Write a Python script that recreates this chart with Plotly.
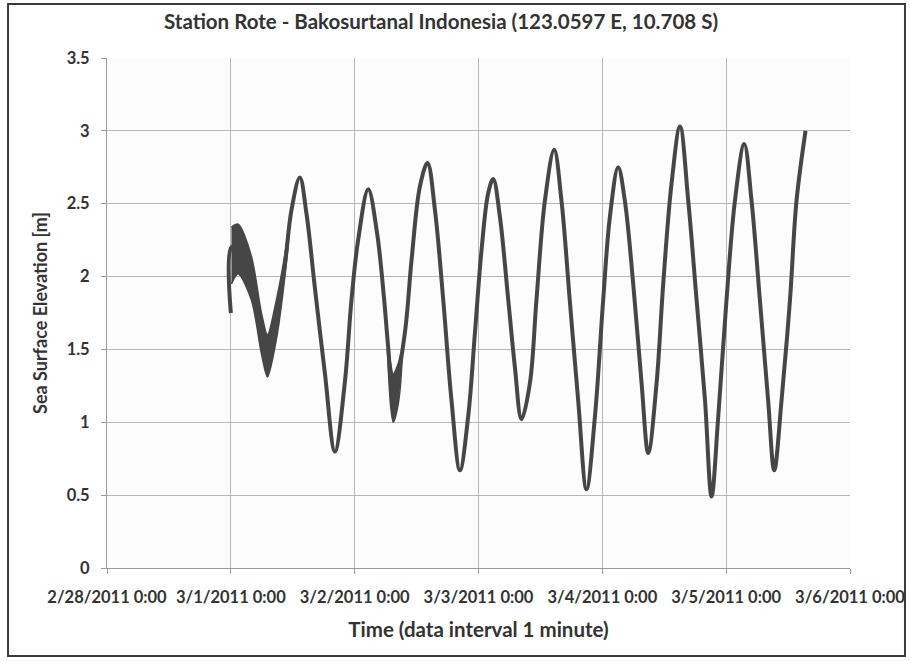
import plotly.graph_objects as go

title_text = "Station Rote - Bakosurtanal Indonesia (123.0597 E, 10.708 S)"
x_title = "Time (data interval 1 minute)"
y_title = "Sea Surface Elevation [m]"

tick_dates = ["2011-02-28", "2011-03-01", "2011-03-02", "2011-03-03",
              "2011-03-04", "2011-03-05", "2011-03-06"]
tick_labels = ["2/28/2011 0:00", "3/1/2011 0:00", "3/2/2011 0:00", "3/3/2011 0:00",
               "3/4/2011 0:00", "3/5/2011 0:00", "3/6/2011 0:00"]
y_ticks = [0, 0.5, 1, 1.5, 2, 2.5, 3, 3.5]
y_tick_labels = ["0", "0.5", "1", "1.5", "2", "2.5", "3", "3.5"]

# sea surface elevation (m)
times = [
    "2011-03-01 00:00", "2011-03-01 00:07", "2011-03-01 01:25", "2011-03-01 03:59",
    "2011-03-01 05:56", "2011-03-01 07:06", "2011-03-01 08:50", "2011-03-01 10:28",
    "2011-03-01 11:46", "2011-03-01 13:22", "2011-03-01 14:40", "2011-03-01 16:16",
    "2011-03-01 18:13", "2011-03-01 20:10", "2011-03-01 22:05", "2011-03-01 23:23",
    "2011-03-02 00:40", "2011-03-02 02:38", "2011-03-02 04:20", "2011-03-02 05:40",
    "2011-03-02 06:29", "2011-03-02 07:28", "2011-03-02 09:43", "2011-03-02 11:01",
    "2011-03-02 12:39", "2011-03-02 14:07", "2011-03-02 15:33", "2011-03-02 17:10",
    "2011-03-02 18:46", "2011-03-02 20:24", "2011-03-02 22:00", "2011-03-02 23:18",
    "2011-03-03 00:35", "2011-03-03 01:52", "2011-03-03 02:51", "2011-03-03 04:09",
    "2011-03-03 05:46", "2011-03-03 07:03", "2011-03-03 08:20", "2011-03-03 09:58",
    "2011-03-03 11:14", "2011-03-03 12:52", "2011-03-03 14:40", "2011-03-03 16:05",
    "2011-03-03 17:41", "2011-03-03 19:19", "2011-03-03 20:56", "2011-03-03 22:34",
    "2011-03-04 00:10", "2011-03-04 01:28", "2011-03-04 03:04", "2011-03-04 04:22",
    "2011-03-04 05:59", "2011-03-04 07:36", "2011-03-04 08:54", "2011-03-04 10:31",
    "2011-03-04 11:48", "2011-03-04 13:25", "2011-03-04 15:03", "2011-03-04 16:39",
    "2011-03-04 18:16", "2011-03-04 19:54", "2011-03-04 21:10", "2011-03-04 22:28",
    "2011-03-05 00:04", "2011-03-05 01:42", "2011-03-05 03:30", "2011-03-05 04:55",
    "2011-03-05 06:32", "2011-03-05 08:08", "2011-03-05 09:19", "2011-03-05 10:44",
    "2011-03-05 12:22", "2011-03-05 13:38", "2011-03-05 15:23",
]
elevation = [
    1.75, 2.20, 2.20, 1.99,
    1.60, 1.47, 1.70, 2.08,
    2.46, 2.68, 2.43, 1.93,
    1.34, 0.80, 1.27, 1.84,
    2.25, 2.60, 2.30, 1.86,
    1.52, 1.18, 1.61, 2.11,
    2.62, 2.78, 2.46, 1.84,
    1.15, 0.67, 1.04, 1.61,
    2.18, 2.57, 2.67, 2.41,
    1.84, 1.38, 1.02, 1.27,
    1.84, 2.52, 2.87, 2.52,
    1.84, 1.15, 0.54, 1.04,
    1.84, 2.41, 2.75, 2.52,
    1.95, 1.27, 0.79, 1.27,
    1.95, 2.64, 3.03, 2.52,
    1.84, 1.15, 0.49, 1.04,
    1.84, 2.52, 2.91, 2.52,
    1.84, 1.15, 0.67, 1.15,
    1.84, 2.52, 3.00,
]

# upper / lower edges of the noisy (high-frequency) band
noise1_times = ["2011-03-01 00:07", "2011-03-01 01:25", "2011-03-01 03:59", "2011-03-01 05:56",
                "2011-03-01 07:06", "2011-03-01 08:50", "2011-03-01 10:28", "2011-03-01 11:17"]
noise1_upper = [2.34, 2.36, 2.14, 1.75, 1.60, 1.84, 2.15, 2.35]
noise1_lower = [1.95, 2.02, 1.84, 1.47, 1.31, 1.57, 2.00, 2.30]

noise2_times = ["2011-03-02 06:20", "2011-03-02 07:00", "2011-03-02 07:28",
                "2011-03-02 08:25", "2011-03-02 09:10"]
noise2_upper = [1.56, 1.40, 1.33, 1.40, 1.50]
noise2_lower = [1.50, 1.10, 1.00, 1.12, 1.42]

font_family = "Lato, 'Open Sans', sans-serif"
text_color = "#333333"
line_color = "#464646"

fig = go.Figure()
for nt, nu, nl in [(noise1_times, noise1_upper, noise1_lower),
                   (noise2_times, noise2_upper, noise2_lower)]:
    fig.add_trace(go.Scatter(
        x=nt + nt[::-1], y=nu + nl[::-1], mode="lines", fill="toself",
        fillcolor=line_color, line=dict(color=line_color, width=1.5, shape="spline", smoothing=0.8),
        showlegend=False, hoverinfo="skip",
    ))
fig.add_trace(go.Scatter(
    x=times, y=elevation, mode="lines",
    line=dict(color=line_color, width=4, shape="spline", smoothing=1.0),
    showlegend=False, hoverinfo="x+y",
))

axis_font = dict(family=font_family, size=16.5, weight="bold", color=text_color)

fig.update_layout(
    width=910, height=661,
    margin=dict(l=107, r=60, t=58, b=93),
    paper_bgcolor="#ffffff",
    plot_bgcolor="#fcfcfd",
    font=dict(family=font_family, color=text_color, size=13),
    title=dict(text=title_text, x=441 / 910, xanchor="center", y=1 - 22 / 661, yanchor="middle",
               font=dict(family=font_family, size=20.5, weight="bold", color=text_color)),
    xaxis=dict(
        type="date",
        range=[tick_dates[0], tick_dates[-1]],
        tickmode="array", tickvals=tick_dates, ticktext=tick_labels,
        showgrid=True, gridcolor="#b8b8b8", gridwidth=1,
        showline=True, linecolor="#9a9a9a", linewidth=1,
        ticks="outside", ticklen=5, tickcolor="#9a9a9a",
        ticklabelstandoff=9,
        tickfont=axis_font,
        title=dict(text=x_title, standoff=16,
                   font=dict(family=font_family, size=20.5, weight="bold", color=text_color)),
        zeroline=False, automargin=False,
    ),
    yaxis=dict(
        range=[0, 3.5],
        tickmode="array", tickvals=y_ticks, ticktext=y_tick_labels,
        showgrid=True, gridcolor="#b8b8b8", gridwidth=1,
        showline=True, linecolor="#9a9a9a", linewidth=1,
        ticks="outside", ticklen=5, tickcolor="#9a9a9a",
        ticklabelstandoff=8,
        tickfont=axis_font,
        title=dict(text=y_title, standoff=14,
                   font=dict(family=font_family, size=18, weight="bold", color=text_color)),
        zeroline=False, automargin=False,
    ),
)

# chart-area border
fig.add_shape(type="rect", xref="paper", yref="paper",
              x0=-0.1332, x1=1.074, y0=-0.1725, y1=1.1059,
              line=dict(color="#3a3a3a", width=2), fillcolor="rgba(0,0,0,0)", layer="below")

fig.write_html("out.html", config={"displayModeBar": False},
               post_script="document.body.style.margin='0';")
